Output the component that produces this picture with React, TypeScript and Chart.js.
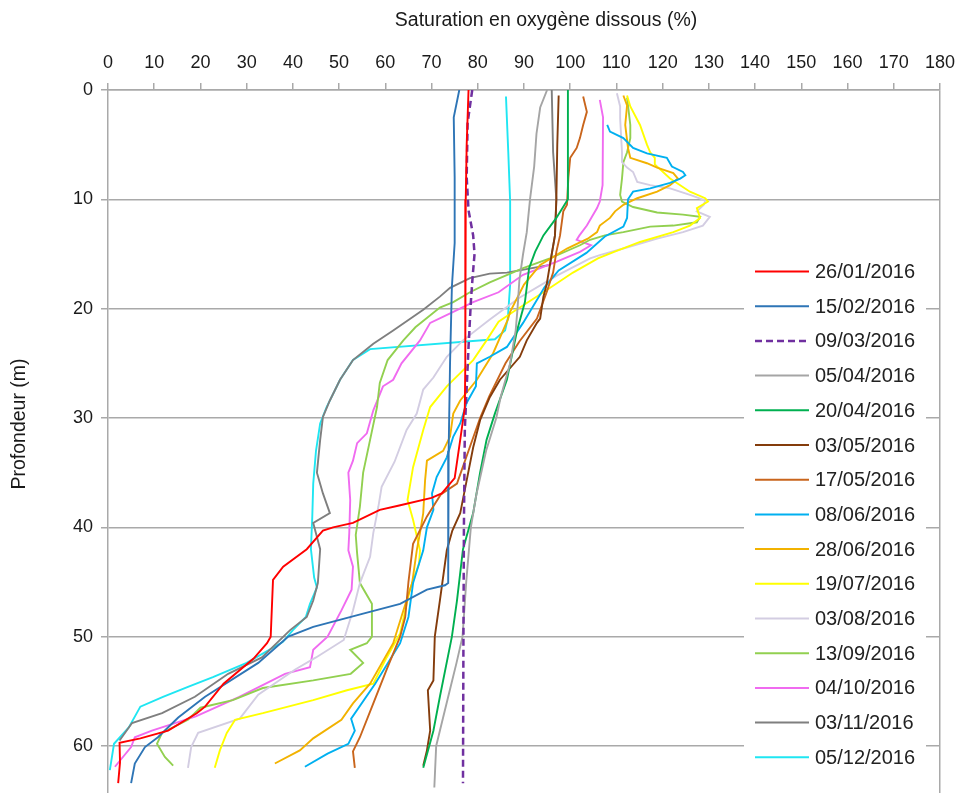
import React, { useEffect, useRef } from "react";
import { Chart, registerables } from "chart.js";

Chart.register(...registerables);

// Each series: [depth (m), oxygen saturation (%)]
const s260116: [number, number][] = [
  [0, 78], [5, 77.6], [10, 77.4], [15, 77.3], [20, 77.3], [25, 77.3], [29, 77.2], [32, 76.2], [35.5, 75],
  [36.9, 72.2], [37.3, 70], [38, 63], [38.4, 58.8], [39.6, 53], [40, 48.7], [40.3, 46.5], [42, 43],
  [43.6, 37.9], [44.8, 35.7], [50, 35.2], [50.6, 34.4], [52, 31.5], [54.3, 25], [56.4, 21], [57, 19.2],
  [58.6, 13], [59.3, 7], [59.7, 2.5], [61.5, 2.6], [63.4, 2.2],
];
const s150216: [number, number][] = [
  [0, 76], [2.5, 74.8], [8, 75], [14, 75], [18, 74.4], [25, 74], [33, 73.7], [45.1, 73.6], [45.3, 72.9],
  [45.7, 69], [47, 63.2], [47.9, 55.2], [49.1, 44.4], [50, 39], [52.4, 32.5], [55.5, 21], [57.4, 15.2],
  [59.2, 10.8], [60.1, 8], [61.6, 5.8], [63.4, 5],
];
const s090316: [number, number][] = [
  [0, 78.8], [3, 77.8], [8, 77.6], [11, 78], [13.3, 79], [15, 79.3], [17, 78.9], [19.4, 78.5], [23.5, 78],
  [31, 77.2], [40, 77], [50, 76.9], [63.4, 76.8],
];
const s050416: [number, number][] = [
  [0, 95], [1.6, 93.5], [4, 92.7], [7, 92.2], [10, 91.3], [13, 90.6], [15, 89.8], [17.4, 89], [20, 88.6],
  [22, 88.2], [25, 87], [28, 85], [30, 84], [33, 81.8], [37, 79.7], [40, 78.5], [45, 77.5], [50, 76.7],
  [52.4, 75.4], [55.5, 73.6], [58.6, 71.8], [60, 71], [63.8, 70.6],
];
const s200416: [number, number][] = [
  [0, 99.5], [10, 99.5], [11.7, 97], [13.3, 94.2], [14.8, 92.4], [16.3, 91.1], [19.4, 90.2], [22, 88.5],
  [26.5, 86.3], [29.6, 83.7], [32, 81.9], [35, 80.5], [38.7, 79], [42, 76.8], [46.7, 75.5], [50, 74.4],
  [55.5, 71.8], [58.6, 70.4], [60, 69.5], [62, 68.2],
];
const s030516: [number, number][] = [
  [0.5, 97.5], [5, 97.2], [10, 97], [13.3, 96.7], [15, 96], [17.8, 94.9], [18.9, 94.2], [20.9, 93.5],
  [21.3, 92.8], [22.9, 90.6], [24.4, 89.1], [26.5, 84.8], [28.1, 82.6], [30.2, 80.5], [32.7, 79],
  [35.7, 77.6], [38.7, 76.2], [40.3, 74.5], [42.1, 73.3], [46.7, 71.8], [50, 70.7], [54, 70.4],
  [54.9, 69.2], [58.6, 69.7], [60.4, 69], [61.8, 68.2],
];
const s170516: [number, number][] = [
  [0.6, 102.8], [2, 103.6], [3.2, 102.8], [4.4, 102.1], [5.3, 101.4], [6.2, 100], [8, 99.6], [10.5, 99.3],
  [11.1, 98.5], [13.3, 97.8], [14.8, 97], [16.7, 96.3], [18.5, 94.9], [20.9, 92.8], [23, 89], [25, 86],
  [28, 82.5], [30, 80.5], [33, 78], [36, 75.5], [37, 72], [39, 69], [41.5, 66], [45, 65], [48.2, 64.3],
  [50, 63.2], [53, 60.3], [56.1, 57.4], [59.2, 54.5], [60.5, 53], [62, 53.4],
];
const s080616: [number, number][] = [
  [3.2, 108], [3.8, 108.6], [4.4, 111.5], [5.3, 113.6], [5.8, 116.6], [6.2, 120.9], [7, 122], [7.5, 124.4],
  [7.8, 124.9], [8.1, 123.8], [8.5, 121.6], [9, 117.3], [9.3, 113.6], [10, 112.5], [11.7, 112.3],
  [12.5, 111.5], [13.4, 107.5], [14.9, 103.5], [16.5, 97.5], [18, 94.5], [21.3, 89.8], [23.5, 86.3],
  [24.4, 82.6], [25, 79.8], [27.1, 79.6], [28.6, 77.6], [30.5, 76.2], [31.7, 74.7], [33.6, 73.3],
  [35.4, 71.1], [36.9, 70.1], [38.4, 70.4], [40, 69], [42.1, 68.2], [45.1, 66], [48.2, 65], [50.6, 63.2],
  [54.3, 57.8], [57.5, 52.6], [58.6, 53.4], [59.8, 52], [60.7, 47.5], [61.9, 42.6],
];
const s280616: [number, number][] = [
  [0.5, 111.5], [1.4, 112.3], [3.2, 111.9], [5.3, 112.5], [6.2, 113], [6.7, 116.6], [7.1, 118.8],
  [7.6, 122.3], [8.1, 123.3], [8.7, 121.6], [9.3, 118.8], [9.9, 114.5], [10.5, 111.5], [11.1, 109.7],
  [11.7, 108.6], [12.4, 106.4], [13, 105.8], [13.6, 103.8], [14.5, 99.3], [16, 93.5], [17.8, 90],
  [20.3, 87], [21, 86.5], [24.1, 83.3], [26.5, 79.8], [28.4, 76.2], [29.6, 74.7], [31.7, 74], [33, 72.5],
  [33.9, 69], [35.7, 68.6], [38.7, 68.2], [40.5, 67.5], [42.1, 66.8], [45.1, 65.8], [47.6, 63.9],
  [50.6, 61.7], [54.3, 56.7], [56.1, 53], [57.6, 50.5], [59.3, 44.4], [60.4, 41.5], [61.6, 36.1],
];
const s190716: [number, number][] = [
  [0.5, 112.3], [1.5, 113], [3.2, 115.1], [5, 116.6], [5.7, 117.3], [6.2, 118.3], [6.8, 118.3],
  [8.1, 121.6], [9.3, 125.9], [9.9, 129.2], [10.2, 129.8], [10.8, 127.4], [11.7, 128.1], [12.4, 125.9],
  [13, 122.3], [13.9, 115.1], [14.8, 109.5], [15.4, 106], [16.7, 100.6], [18.5, 94.2], [20.3, 87.6],
  [21.2, 84.5], [22.9, 81.9], [24.7, 79], [25.9, 76.2], [27.1, 73.3], [29, 69.7], [31.1, 68.2],
  [34.5, 66], [37.5, 64.8], [39.3, 66], [42.1, 67.5], [43.3, 67.3], [45.7, 65.3], [49.7, 63.2],
  [51.9, 60.3], [54.3, 57.4], [54.9, 51.7], [55.8, 44.4], [57, 33.5], [57.6, 27.5], [58.8, 25.7],
  [60.4, 24.2], [62, 23.1],
];
const s030816: [number, number][] = [
  [0.3, 110.1], [1.5, 110.8], [2.6, 110.8], [5.7, 111.2], [6.6, 111.2], [7.1, 112.3], [7.5, 113.6],
  [8.4, 114.5], [8.7, 117.3], [9, 121.6], [9.6, 125.9], [10.1, 129.2], [10.5, 128.9], [11.1, 127.4],
  [11.6, 130.2], [12.4, 128.7], [13, 124.4], [13.6, 118.8], [14.5, 111.5], [15.1, 106.4], [15.4, 104.3],
  [17, 97], [19, 89], [21, 82.6], [22.9, 76.8], [24.4, 73.3], [26.3, 70.4], [27.4, 68.2], [29.6, 66.8],
  [31.1, 64.6], [34, 62], [36.3, 59.2], [38.1, 58.5], [40.5, 57.4], [42.7, 56.7], [45.1, 54.5],
  [47.6, 53], [50.3, 51], [51.9, 45], [53, 40.5], [55.3, 32.5], [57.5, 28.5], [58.8, 19.5], [60.1, 18],
  [62, 17.3],
];
const s130916: [number, number][] = [
  [0.7, 112.3], [3.2, 113], [4.4, 113], [5.7, 112.3], [6.6, 111.5], [8.1, 111.2], [9.6, 110.8],
  [10.2, 111.2], [10.7, 113.6], [11.2, 118.8], [11.4, 124.4], [11.6, 128.1], [12.1, 127.4], [12.4, 122.3],
  [12.5, 117.3], [13, 111.5], [13.3, 107.5], [13.7, 104.3], [14.2, 102.1], [15.4, 95.6], [16.3, 89.8],
  [17.6, 82.6], [18.5, 78.3], [19.4, 74.7], [19.9, 71.8], [21.7, 66.5], [22.9, 63.9], [24.7, 60.5],
  [26.8, 58.8], [29, 58.2], [32, 56.7], [35, 55.2], [38.1, 54.5], [40.7, 53.6], [42.4, 53.9], [45.1, 54.5],
  [47, 57.1], [50, 57.1], [50.6, 56], [51.2, 52.4], [52.4, 55.2], [53.4, 52.5], [54, 44.4], [54.7, 33.5],
  [55.8, 27], [56.5, 20], [57.6, 17.3], [58.8, 11.7], [59.8, 10.6], [61, 12.3], [61.8, 14.1],
];
const s041016: [number, number][] = [
  [0.9, 106.4], [2.5, 107.1], [8.7, 107], [10.2, 106.4], [10.8, 105.8], [12.4, 103.6], [13.3, 102],
  [13.7, 101.4], [14.2, 104.5], [14.8, 102.1], [15.7, 97.1], [16.9, 89.8], [18.5, 84.5], [19.4, 79],
  [20.3, 74.7], [21.3, 69.7], [22.9, 67.5], [25, 63.5], [26.5, 61.7], [27.1, 59.5], [29.3, 57.4],
  [31.4, 56], [32.3, 53.9], [33.9, 53], [35, 52], [37.5, 52.4], [40.5, 52.2], [42.1, 52], [43.6, 53],
  [45.7, 52.7], [47.6, 50.5], [50, 47.5], [51.2, 44.4], [52.8, 43.7], [53.4, 38.3], [55.5, 28.4],
  [57.3, 19], [58.6, 9.5], [59.2, 5.8], [60.1, 5], [61.9, 1.5],
];
const s031116: [number, number][] = [
  [0, 96], [5.7, 96.3], [10, 97], [13.3, 96.7], [16, 95.6], [16.7, 86.3], [16.8, 82.6], [17.2, 78.3],
  [18.1, 74], [18.9, 71.8], [20.1, 68.2], [22, 61.7], [23.2, 57.4], [24.7, 53], [26.5, 50.2], [28.4, 48],
  [29.9, 46.5], [32, 45.9], [35, 45.2], [36.9, 46.5], [38.7, 48], [39.6, 44.4], [42, 45.9], [45.1, 45.4],
  [46.7, 44.4], [48.2, 43], [49.4, 39.4], [51.9, 33.3], [53.4, 26], [55.5, 18.8], [57, 11.7], [57.9, 5.2],
  [59.5, 2.5],
];
const s051216: [number, number][] = [
  [0.6, 86.1], [5.7, 86.6], [10.2, 87], [17.8, 87], [20.9, 86.5], [22, 85.9], [22.8, 83.7], [23.7, 56.7],
  [24.7, 53], [26.5, 50.2], [29, 47.3], [30.5, 45.9], [33, 45], [36, 44.4], [39, 44.2], [42, 43.9],
  [44.6, 44.6], [45.5, 45.2], [47, 43.7], [48.2, 42.8], [49.4, 40], [50.5, 37.8], [52.4, 30], [53.7, 22.7],
  [54.6, 17.3], [55.5, 11.9], [56.4, 7], [58.3, 4.5], [59.8, 1.3], [62.2, 0.4],
];

const seriesLabels = [
  "26/01/2016", "15/02/2016", "09/03/2016", "05/04/2016", "20/04/2016", "03/05/2016", "17/05/2016",
  "08/06/2016", "28/06/2016", "19/07/2016", "03/08/2016", "13/09/2016", "04/10/2016", "03/11/2016",
  "05/12/2016",
];
const seriesData = [
  s260116, s150216, s090316, s050416, s200416, s030516, s170516, s080616, s280616, s190716, s030816,
  s130916, s041016, s031116, s051216,
];
const seriesColors = [
  "#FF0000", "#2E75B6", "#7030A0", "#A5A5A5", "#00B050", "#843C0C", "#C9651C", "#00B0F0", "#F2B200",
  "#FFFF00", "#D3CDE2", "#92D050", "#F06BF0", "#7F7F7F", "#1FE6F2",
];
const dashedIndex = 2;

const xTickValues = [0, 10, 20, 30, 40, 50, 60, 70, 80, 90, 100, 110, 120, 130, 140, 150, 160, 170, 180];
const yTickValues = [0, 10, 20, 30, 40, 50, 60];
const xTitle = "Saturation en oxygène dissous (%)";
const yTitle = "Profondeur (m)";

const FONT = "'Liberation Sans', Arial, sans-serif";
const GRID = "#A9A9A9";

const legendPlugin = {
  id: "boxLegend",
  beforeDatasetsDraw(chart: any) {
    const ctx = chart.ctx;
    ctx.save();
    ctx.fillStyle = "#ffffff";
    ctx.fillRect(744, 252, 182, chart.height - 252);
    ctx.restore();
  },
  afterDatasetsDraw(chart: any) {
    const ctx = chart.ctx;
    ctx.save();
    chart.data.datasets.forEach((ds: any, i: number) => {
      const y = 271.5 + i * 34.7;
      ctx.beginPath();
      ctx.strokeStyle = ds.borderColor;
      ctx.lineWidth = ds.borderDash && ds.borderDash.length ? 2.5 : 2;
      ctx.setLineDash(ds.borderDash || []);
      ctx.moveTo(755, y);
      ctx.lineTo(809, y);
      ctx.stroke();
      ctx.setLineDash([]);
      ctx.fillStyle = "#222222";
      ctx.font = `20px ${FONT}`;
      ctx.textAlign = "left";
      ctx.textBaseline = "middle";
      ctx.fillText(ds.label, 815, y + 1);
    });
    // axis titles
    ctx.fillStyle = "#1a1a1a";
    ctx.font = `19.5px ${FONT}`;
    ctx.textAlign = "center";
    ctx.textBaseline = "middle";
    ctx.fillText(xTitle, 546, 21);
    ctx.translate(20, 424);
    ctx.rotate(-Math.PI / 2);
    ctx.fillText(yTitle, 0, 0);
    ctx.restore();
  },
};

export default function App() {
  const ref = useRef<HTMLCanvasElement | null>(null);

  useEffect(() => {
    if (!ref.current) return;
    const datasets = seriesLabels.map((label, i) => ({
      label,
      data: seriesData[i].map(([d, v]) => ({ x: v, y: d })),
      borderColor: seriesColors[i],
      backgroundColor: seriesColors[i],
      borderWidth: i === dashedIndex ? 2.5 : 1.9,
      borderDash: i === dashedIndex ? [7, 4] : [],
      showLine: true,
      pointRadius: 0,
      tension: 0,
      fill: false,
    }));

    const chart = new Chart(ref.current, {
      type: "scatter",
      data: { datasets },
      plugins: [legendPlugin],
      options: {
        animation: false,
        responsive: false,
        layout: { padding: { left: 0, right: 18, top: 0, bottom: 0 } },
        plugins: { legend: { display: false }, tooltip: { enabled: false } },
        scales: {
          x: {
            type: "linear",
            position: "top",
            min: 0,
            max: 180,
            afterFit: (s: any) => { s.height = 90; s.paddingLeft = 0; s.paddingRight = 0; },
            afterBuildTicks: (s: any) => { s.ticks = xTickValues.map((v) => ({ value: v })); },
            ticks: { stepSize: 10, color: "#1a1a1a", font: { family: FONT, size: 18 }, padding: 9, maxRotation: 0, autoSkip: false },
            grid: {
              drawOnChartArea: true,
              color: (c: any) => (c.tick && c.tick.value === 180 ? GRID : "rgba(0,0,0,0)"),
              tickColor: GRID,
              tickLength: 7,
              lineWidth: 1.5,
            },
            border: { display: true, color: GRID, width: 1.5 },
            title: { display: false },
          },
          y: {
            type: "linear",
            reverse: true,
            min: 0,
            max: 64.3,
            afterFit: (s: any) => { s.width = 108; s.paddingTop = 0; s.paddingBottom = 0; },
            afterBuildTicks: (s: any) => { s.ticks = yTickValues.map((v) => ({ value: v })); },
            ticks: { stepSize: 10, color: "#1a1a1a", font: { family: FONT, size: 18 }, padding: 8 },
            grid: { color: GRID, lineWidth: 1.5, tickLength: 7, drawTicks: true },
            border: { display: true, color: GRID, width: 1.5 },
            title: { display: false },
          },
        },
      },
    } as any);
    return () => chart.destroy();
  }, []);

  return (
    <div style={{ position: "fixed", left: 0, top: 0, width: 958, height: 793, background: "#fff" }}>
      <canvas ref={ref} width={958} height={793} style={{ width: 958, height: 793, display: "block" }} />
    </div>
  );
}
